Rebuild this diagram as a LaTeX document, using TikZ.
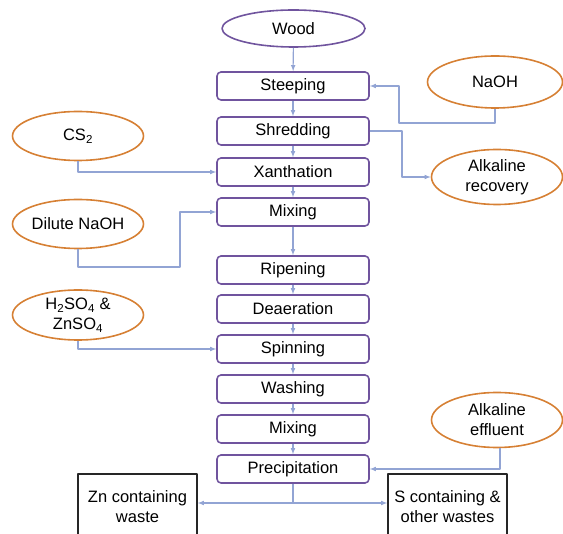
\documentclass[tikz,border=0pt]{standalone}
\usepackage{fontspec}
\setmainfont{Liberation Sans}
\usetikzlibrary{shapes.geometric}
\definecolor{boxpurple}{RGB}{112,84,158}
\definecolor{feedorange}{RGB}{214,128,52}
\definecolor{flowblue}{RGB}{146,164,212}
\tikzset{
  process/.style={draw=boxpurple, line width=1.6bp, rounded corners=4bp,
    minimum width=152bp, minimum height=28bp, inner sep=0pt},
  feed/.style={ellipse, draw=feedorange, line width=1.6bp, minimum width=131bp,
    minimum height=49bp, inner sep=0pt, align=center},
  wastebox/.style={draw=black!85, line width=1.6bp, minimum width=119bp,
    minimum height=66bp, anchor=north, align=center, inner sep=0pt},
  flow/.style={draw=flowblue, line width=1.1bp, ->}
}
\begin{document}
\begin{tikzpicture}[>=latex,line join=bevel,font=\fontsize{16.5bp}{20bp}\selectfont]
  \clip (0bp,0bp) rectangle (563bp,534bp);
%%
  % Node: Wood
  \node[feed, draw=boxpurple, minimum width=143bp, minimum height=37bp] (wood) at (293.5bp,505.5bp) {Wood};
  % Nodes: process chain
  \node[process] (steeping) at (293bp,448bp) {Steeping};
  \node[process] (shredding) at (293bp,403bp) {Shredding};
  \node[process] (xanthation) at (293bp,362bp) {Xanthation};
  \node[process] (mixingA) at (293bp,322bp) {Mixing};
  \node[process] (ripening) at (293bp,264bp) {Ripening};
  \node[process] (deaeration) at (293bp,225bp) {Deaeration};
  \node[process] (spinning) at (293bp,185bp) {Spinning};
  \node[process] (washing) at (293bp,145bp) {Washing};
  \node[process] (mixingB) at (293bp,105bp) {Mixing};
  \node[process] (precip) at (293bp,65bp) {Precipitation};
  % Nodes: inputs and outputs
  \node[feed, minimum width=135bp, minimum height=52bp] (naoh) at (495bp,452bp) {NaOH};
  \node[feed, minimum height=55bp] (alkrec) at (497bp,357bp) {Alkaline\\recovery};
  \node[feed] (cstwo) at (78bp,398bp) {CS\textsubscript{2}};
  \node[feed] (dilnaoh) at (78bp,310bp) {Dilute NaOH};
  \node[feed, minimum height=50bp] (acid) at (78bp,219bp) {H\textsubscript{2}SO\textsubscript{4} \&\\ZnSO\textsubscript{4}};
  \node[feed, minimum height=55bp] (effluent) at (497bp,114bp) {Alkaline\\effluent};
  \node[wastebox] (znwaste) at (137.5bp,61bp) {Zn containing\\waste};
  \node[wastebox] (swaste) at (447.5bp,61bp) {S containing \&\\other wastes};
%%
  % Edges: main chain
  \draw[flow] (wood) -- (steeping);
  \draw[flow] (steeping) -- (shredding);
  \draw[flow] (shredding) -- (xanthation);
  \draw[flow] (xanthation) -- (mixingA);
  \draw[flow] (mixingA) -- (ripening);
  \draw[flow] (ripening) -- (deaeration);
  \draw[flow] (deaeration) -- (spinning);
  \draw[flow] (spinning) -- (washing);
  \draw[flow] (washing) -- (mixingB);
  \draw[flow] (mixingB) -- (precip);
  % Edge: NaOH -> Steeping
  \coordinate (naohbend) at (399bp,411bp);
  \draw[flow] (naoh.south) |- (naohbend) |- (steeping.east);
  % Edge: Shredding -> Alkaline recovery
  \coordinate (recbend) at (402bp,357bp);
  \draw[flow] (shredding.east) -| (recbend) -- (alkrec.west);
  % Edge: CS2 -> Xanthation
  \draw[flow] (cstwo.south) |- (xanthation.west);
  % Edge: Dilute NaOH -> Mixing
  \coordinate (dilbend) at (180bp,267bp);
  \draw[flow] (dilnaoh.south) |- (dilbend) |- (mixingA.west);
  % Edge: H2SO4 & ZnSO4 -> Spinning
  \draw[flow] (acid.south) |- (spinning.west);
  % Edge: Alkaline effluent -> Precipitation
  \draw[flow] ([xshift=3bp]effluent.south) |- (precip.east);
  % Edges: Precipitation -> wastes
  \coordinate (split) at (293bp,31bp);
  \draw[draw=flowblue, line width=1.1bp] (precip.south) -- (split);
  \draw[flow] (split) -- (split -| znwaste.east);
  \draw[flow] (split) -- (split -| swaste.west);
%
\end{tikzpicture}
\end{document}
